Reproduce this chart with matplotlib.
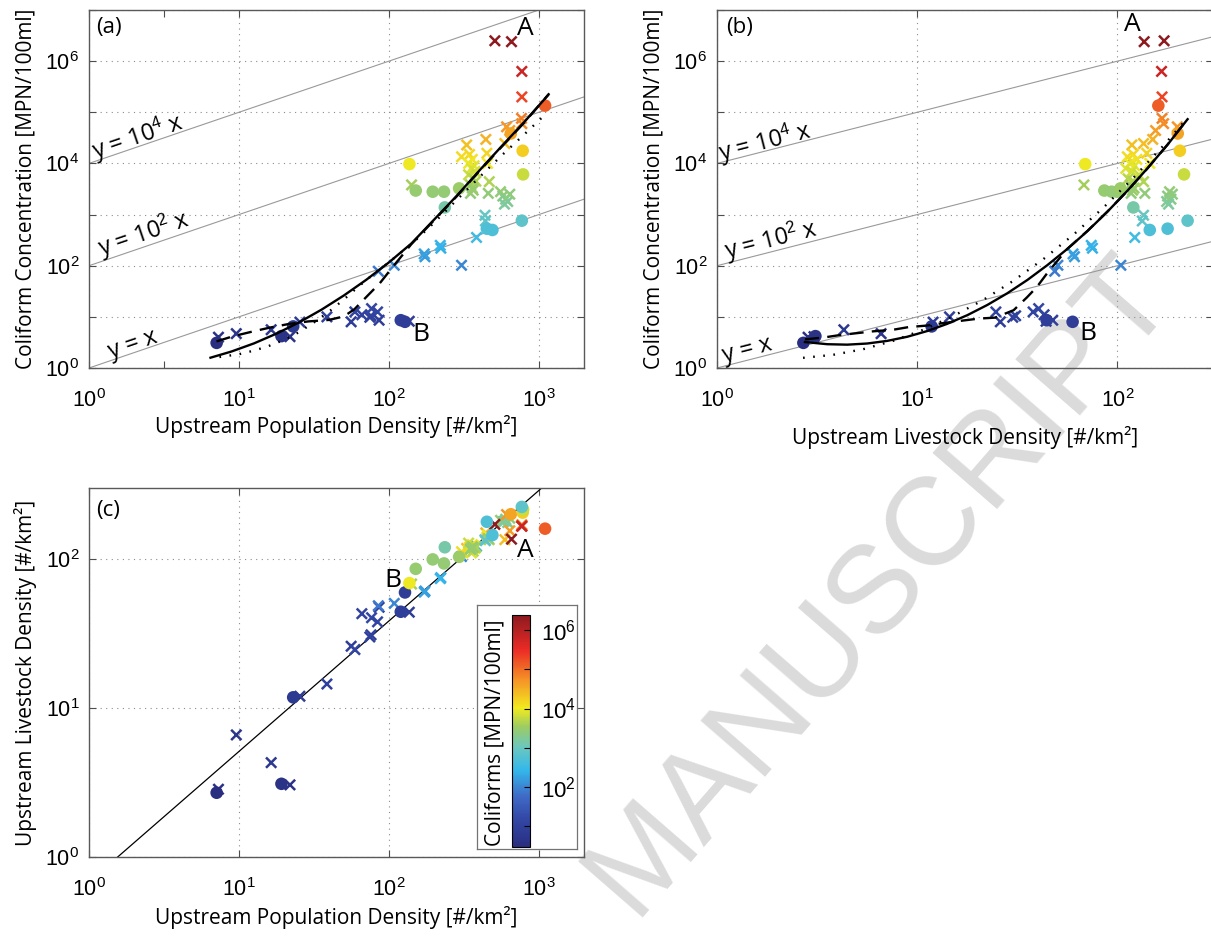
import numpy as np
import matplotlib
matplotlib.use("Agg")
import matplotlib.pyplot as plt
from matplotlib.colors import LogNorm, LinearSegmentedColormap
from matplotlib.cm import ScalarMappable
import matplotlib.ticker as mticker

# ---------------- data ----------------
# circle sites: population density, livestock density, coliforms
circ_pop = [7.1, 19.2, 23.0, 120, 128, 137, 151, 196, 233, 236, 294, 450, 490, 650, 780, 785, 770, 1100]
circ_live = [2.7, 3.1, 11.8, 44.3, 59.7, 69, 86, 99.5, 93.5, 120, 103.5, 178, 145, 200, 205, 215, 224, 160]
circ_coli = [3.1, 4.2, 6.5, 8.6, 8.0, 9700, 2950, 2800, 2800, 1380, 3250, 530, 500, 38500, 17700, 6100, 760, 135000]

# cross samples
cross_pop = [7.3, 9.6, 16.4, 21.9, 25.5, 38.6, 56, 59.3, 66, 74.6, 76, 76.6, 84, 86, 85,
             108.6, 136.7, 141.6, 174, 172, 222, 220, 305, 384,
             330, 305, 345, 360, 340, 370, 355, 375, 340, 365, 380, 350, 360, 350, 365,
             443, 450, 455, 467, 460, 437, 440,
             555, 575, 600, 620, 640, 590,
             609, 593, 766, 770, 640,
             770, 770, 509, 657]
cross_live = [2.85, 6.6, 4.3, 3.05, 12, 14.5, 26, 24.7, 43, 30, 31, 40.4, 37.9, 47.5, 48.6,
              50.4, 44, 68, 61, 60, 75, 74, 104, 122,
              118, 112, 120, 125, 115, 122, 110, 118, 128, 113, 120, 116, 121, 117, 119,
              150, 140, 145, 135, 137, 135, 133,
              182, 178, 185, 176, 188, 180,
              199, 135, 167, 170, 155,
              167, 166, 171, 136]
cross_coli = [4.0, 4.7, 5.6, 4.1, 7.9, 10, 8.0, 12.5, 11, 9.8, 10.5, 14.5, 12.5, 8.6, 78,
              102, 8.2, 3800, 150, 170, 220, 250, 102, 357,
              23000, 13500, 15000, 12000, 10000, 9000, 8000, 7000, 6000, 5000, 4500, 3800, 3300, 2600, 3000,
              29500, 15800, 10000, 4400, 2600, 970, 750,
              2800, 2300, 2000, 1800, 2500, 1600,
              52000, 24500, 76000, 60000, 44000,
              200000, 630000, 2.5e6, 2.4e6]

# fitted curves: population vs coliforms
a_solid_pop = [6.46, 8.91, 12.6, 17.8, 25.1, 35.5, 50.1, 70.8, 100, 141, 200, 282, 398, 562, 794, 1148]
a_solid_coli = [1.59, 2.10, 3.03, 4.70, 7.76, 13.8, 26.2, 53.3, 116, 271, 794, 2291, 7079, 21380, 63100, 213800]
a_dot_pop = [7.41, 10, 12.6, 15.8, 20.0, 25.1, 31.6, 39.8, 50.1, 63.1, 79.4, 100, 141, 200, 282, 398, 562, 794, 1096]
a_dot_coli = [1.64, 1.86, 2.19, 2.69, 3.55, 5.01, 7.76, 12.6, 21.9, 39.8, 69.2, 117, 263, 692, 1905, 5248, 14125, 36300, 89100]
a_dash_pop = [7.08, 9.12, 12.2, 16.1, 21.4, 28.8, 39.8, 50.1, 58.9, 72.4, 87.1, 107, 141, 200, 282, 398, 562, 794, 1175]
a_dash_coli = [3.31, 4.17, 5.13, 6.17, 7.24, 8.13, 8.71, 10.2, 14.1, 26.3, 45.7, 97.7, 263, 776, 2240, 6918, 20900, 61660, 234400]

# fitted curves: livestock vs coliforms
b_solid_live = [2.75, 3.55, 4.47, 5.62, 7.08, 8.91, 11.2, 14.1, 17.8, 22.4, 28.2, 35.5, 44.7, 56.2, 70.8, 89.1, 112, 141, 178, 224]
b_solid_coli = [3.22, 2.92, 2.86, 3.01, 3.39, 4.08, 5.27, 7.29, 10.8, 17.1, 29.0, 52.7, 103, 213, 475, 1138, 2911, 7980, 23300, 73300]
b_dot_live = [2.69, 3.80, 5.37, 7.59, 10.7, 15.1, 21.4, 30.2, 42.7, 60.3, 85.1, 120, 170, 219]
b_dot_coli = [1.58, 1.81, 2.33, 3.40, 5.57, 10.3, 21.5, 50.7, 135, 405, 1368, 5224, 22440, 70630]
b_dash_live = [2.75, 3.40, 4.05, 5.09, 6.05, 7.62, 9.06, 11.2, 13.6, 17.1, 20.3, 24.5, 30.3, 35.3, 39.6, 44.5,
               56.2, 70.8, 89.1, 112, 141, 178, 224]
b_dash_coli = [3.63, 3.94, 4.37, 4.84, 5.22, 5.62, 6.31, 6.76, 7.59, 8.51, 9.25, 9.66, 13.5, 24.0, 38.5, 70.8,
               214, 479, 1148, 2884, 7943, 23440, 74130]

# straight fit line of panel (c): population vs livestock
c_line_pop = [1.0, 2000]
c_line_live = [0.68, 530]

# colour scale anchors (position along the log colour range, RGB)
cmap_pos = [0.00, 0.12, 0.22, 0.33, 0.43, 0.52, 0.60, 0.72, 0.85, 1.00]
cmap_rgb = [(0.16, 0.18, 0.50), (0.20, 0.28, 0.65), (0.25, 0.42, 0.78), (0.20, 0.72, 0.92),
            (0.42, 0.78, 0.75), (0.62, 0.80, 0.38), (0.95, 0.92, 0.12), (0.96, 0.58, 0.15),
            (0.92, 0.17, 0.15), (0.55, 0.10, 0.12)]

# ---------------- style ----------------
plt.rcParams["font.family"] = ["Liberation Sans", "DejaVu Sans"]
plt.rcParams["mathtext.fontset"] = "custom"
plt.rcParams["mathtext.rm"] = "Liberation Sans"
plt.rcParams["mathtext.it"] = "Liberation Sans:italic"
LABEL_FONT = ["Open Sans", "DejaVu Sans"]

W, H = 1211, 936
fig = plt.figure(figsize=(W / 100, H / 100), dpi=100)
fig.patch.set_facecolor("white")


def px_axes(l, t, r, b):
    return fig.add_axes([l / W, 1 - b / H, (r - l) / W, (b - t) / H])


cmap = LinearSegmentedColormap.from_list("jetsoft", list(zip(cmap_pos, cmap_rgb)))
allc = circ_coli + cross_coli
norm = LogNorm(vmin=min(allc) * 0.95, vmax=max(allc) * 0.97)

grid_kw = dict(color="0.55", lw=0.8, linestyle=(0, (1, 4)))


def fmt_pow(v, pos=None):
    e = int(round(np.log10(v)))
    return r"$\mathregular{10^{%d}}$" % e


def setup(ax, xlim, ylim, xmaj, ymaj, ylabels):
    ax.set_xscale("log")
    ax.set_yscale("log")
    ax.set_xlim(*xlim)
    ax.set_ylim(*ylim)
    ax.set_facecolor("none")
    ax.set_xticks(xmaj)
    ax.set_yticks(ymaj)
    ax.xaxis.set_major_formatter(mticker.FuncFormatter(fmt_pow))
    ax.yaxis.set_major_formatter(mticker.FuncFormatter(
        lambda v, p: fmt_pow(v) if int(round(np.log10(v))) in ylabels else ""))
    ax.xaxis.set_minor_locator(mticker.NullLocator())
    ax.yaxis.set_minor_locator(mticker.NullLocator())
    ax.xaxis.set_minor_formatter(mticker.NullFormatter())
    ax.tick_params(which="both", direction="in", top=True, right=True, length=5,
                   width=0.8, color="0.3", labelsize=15.5)
    ax.tick_params(axis="x", pad=15)
    ax.tick_params(axis="y", pad=7)
    for s in ax.spines.values():
        s.set_color("0.35")
        s.set_linewidth(1.0)
    for v in xmaj:
        ax.axvline(v, zorder=0.5, **grid_kw)
    for v in ymaj:
        ax.axhline(v, zorder=0.5, **grid_kw)


def scatter_sites(ax, xc, yc, cc, xx, yx, cx):
    ax.scatter(xx, yx, c=cx, cmap=cmap, norm=norm, marker="x", s=55, linewidths=1.8, zorder=3)
    ax.scatter(xc, yc, c=cc, cmap=cmap, norm=norm, marker="o", s=82, linewidths=0, zorder=4)


def guide_lines(ax, xlim, labels):
    xs = np.array(xlim)
    p1 = ax.transData.transform((1, 1))
    p2 = ax.transData.transform((10, 10))
    ang = np.degrees(np.arctan2(p2[1] - p1[1], p2[0] - p1[0]))
    for k, (lx, ly, txt) in zip([1, 1e2, 1e4], labels):
        ax.plot(xs, xs * k, color="0.6", lw=0.8, zorder=1)
        ax.text(lx, ly, txt, rotation=ang, rotation_mode="anchor", ha="center", va="center",
                fontsize=17, family=LABEL_FONT, zorder=5)


LW = 1.7
DOT = (0, (0.7, 3.6))
DASH = (0, (6, 3.5))

# ---------------- panel (a) ----------------
ax_a = px_axes(89, 10, 584, 368)
setup(ax_a, (1, 2000), (1, 1e7), [1, 10, 100, 1000], [10.0 ** k for k in range(0, 8)], [0, 2, 4, 6])
ax_a.set_xticks([10 ** 0.5], minor=True)
guide_lines(ax_a, (1, 2000), [(1.96, 2.91, "y = x"), (2.33, 413, r"y = 10$^{2}$ x"),
                              (2.12, 32700, r"y = 10$^{4}$ x")])
scatter_sites(ax_a, circ_pop, circ_coli, circ_coli, cross_pop, cross_coli, cross_coli)
ax_a.plot(a_solid_pop, a_solid_coli, color="k", lw=LW, zorder=6)
ax_a.plot(a_dot_pop, a_dot_coli, color="k", lw=LW, linestyle=DOT, zorder=6)
ax_a.plot(a_dash_pop, a_dash_coli, color="k", lw=LW, linestyle=DASH, zorder=6)
ax_a.set_xlabel("Upstream Population Density [#/km²]", fontsize=15, family=LABEL_FONT, labelpad=2)
ax_a.set_ylabel("Coliform Concentration [MPN/100ml]", fontsize=15, family=LABEL_FONT, labelpad=6)
ax_a.text(807, 4.4e6, "A", fontsize=19, family=LABEL_FONT, ha="center", va="center", zorder=7)
ax_a.text(163, 4.6, "B", fontsize=19, family=LABEL_FONT, ha="center", va="center", zorder=7)
ax_a.text(0.014, 0.952, "(a)", transform=ax_a.transAxes, fontsize=16, family=LABEL_FONT,
          ha="left", va="center")

# ---------------- panel (b) ----------------
ax_b = px_axes(717, 10, 1213, 368)
setup(ax_b, (1, 300), (1, 1e7), [1, 10, 100], [10.0 ** k for k in range(0, 8)], [0, 2, 4, 6])
guide_lines(ax_b, (1, 300), [(1.41, 2.23, "y = x"), (1.86, 316, r"y = 10$^{2}$ x"),
                             (1.74, 26000, r"y = 10$^{4}$ x")])
scatter_sites(ax_b, circ_live, circ_coli, circ_coli, cross_live, cross_coli, cross_coli)
ax_b.plot(b_solid_live, b_solid_coli, color="k", lw=LW, zorder=6)
ax_b.plot(b_dot_live, b_dot_coli, color="k", lw=LW, linestyle=DOT, zorder=6)
ax_b.plot(b_dash_live, b_dash_coli, color="k", lw=LW, linestyle=DASH, zorder=6)
ax_b.set_xlabel("Upstream Livestock Density [#/km²]", fontsize=15, family=LABEL_FONT, labelpad=10)
ax_b.set_ylabel("Coliform Concentration [MPN/100ml]", fontsize=15, family=LABEL_FONT, labelpad=6)
ax_b.text(119, 5.1e6, "A", fontsize=19, family=LABEL_FONT, ha="center", va="center", zorder=7)
ax_b.text(70.8, 4.8, "B", fontsize=19, family=LABEL_FONT, ha="center", va="center", zorder=7)
ax_b.text(0.018, 0.952, "(b)", transform=ax_b.transAxes, fontsize=16, family=LABEL_FONT,
          ha="left", va="center")

# ---------------- panel (c) ----------------
ax_c = px_axes(89, 488, 584, 857)
setup(ax_c, (1, 2000), (1, 300), [1, 10, 100, 1000], [1, 10, 100], [0, 1, 2])
ax_c.plot(c_line_pop, c_line_live, color="k", lw=0.9, zorder=2)
scatter_sites(ax_c, circ_pop, circ_live, circ_coli, cross_pop, cross_live, cross_coli)
ax_c.set_xlabel("Upstream Population Density [#/km²]", fontsize=15, family=LABEL_FONT, labelpad=4)
ax_c.set_ylabel("Upstream Livestock Density [#/km²]", fontsize=15, family=LABEL_FONT, labelpad=6)
ax_c.text(807, 115, "A", fontsize=19, family=LABEL_FONT, ha="center", va="center", zorder=7)
ax_c.text(106, 72.3, "B", fontsize=19, family=LABEL_FONT, ha="center", va="center", zorder=7)
ax_c.text(0.014, 0.94, "(c)", transform=ax_c.transAxes, fontsize=16, family=LABEL_FONT,
          ha="left", va="center")

# colour bar inset
frame = px_axes(477, 605, 577, 849)
frame.set_xticks([])
frame.set_yticks([])
frame.set_facecolor("white")
for s in frame.spines.values():
    s.set_color("0.45")
    s.set_linewidth(0.9)
frame.set_zorder(8)
cax = px_axes(512, 615, 530, 847)
cax.set_zorder(9)
cb = fig.colorbar(ScalarMappable(norm=norm, cmap=cmap), cax=cax)
cb.outline.set_linewidth(0.8)
cb.set_ticks([100, 1e4, 1e6])
cb.ax.yaxis.set_major_formatter(mticker.FuncFormatter(fmt_pow))
cb.ax.yaxis.set_minor_locator(mticker.FixedLocator([10, 1e3, 1e5]))
cb.ax.yaxis.set_minor_formatter(mticker.NullFormatter())
cb.ax.tick_params(which="both", direction="in", length=4, width=0.8, labelsize=16, pad=8)
fig.text(495 / W, 1 - 733 / H, "Coliforms [MPN/100ml]", rotation=90, ha="center", va="center",
         fontsize=15, family=LABEL_FONT, zorder=10)

# watermark
fig.text(880 / W, 1 - 585 / H, "MANUSCRIPT", rotation=49, ha="center", va="center",
         fontsize=90, color="0.86", zorder=-1, family=["Liberation Sans"])

fig.savefig("out.png", dpi=100, facecolor="white")
